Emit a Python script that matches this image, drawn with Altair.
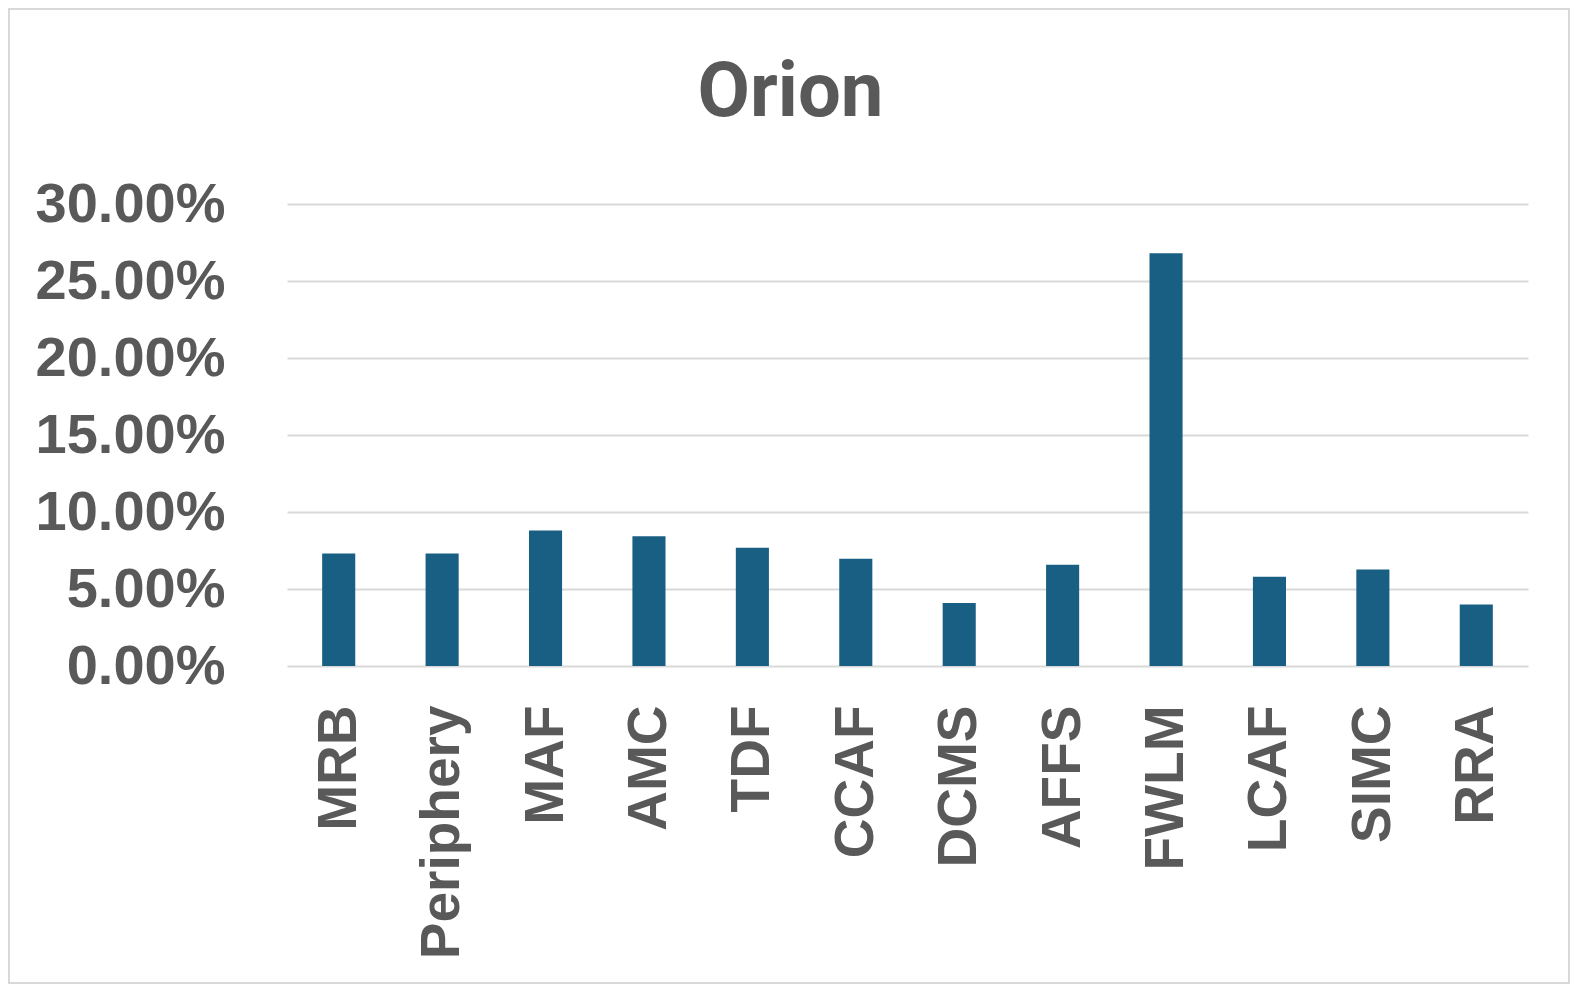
import altair as alt
import pandas as pd

categories = ["MRB", "Periphery", "MAF", "AMC", "TDF", "CCAF", "DCMS", "AFFS", "FWLM", "LCAF", "SIMC", "RRA"]
values = [0.0730, 0.0730, 0.0880, 0.0843, 0.0768, 0.0696, 0.0409, 0.0657, 0.2680, 0.0580, 0.0627, 0.0400]
y_ticks = [0.0, 0.05, 0.10, 0.15, 0.20, 0.25, 0.30]

df = pd.DataFrame({"category": categories, "value": values})

W, H = 1241, 462
PL, PT, PR, PB = 279, 196, 42, 318
TEXT = "#595959"
GRID = "#D9D9D9"

bars = alt.Chart(df).mark_bar(color="#185F83").encode(
    x=alt.X(
        "category:N",
        sort=categories,
        title=None,
        scale=alt.Scale(paddingInner=0.68, paddingOuter=0.34),
        axis=alt.Axis(
            labelAngle=-90,
            labelAlign="right",
            labelBaseline="middle",
            labelFont="Liberation Sans",
            labelFontWeight="bold",
            labelFontSize=55,
            labelColor=TEXT,
            labelPadding=39,
            labelLimit=1000,
            labelOverlap=False,
            ticks=False,
            tickSize=0,
            domain=False,
            grid=False,
        ),
    ),
    y=alt.Y(
        "value:Q",
        title=None,
        scale=alt.Scale(domain=[0, 0.30], nice=False),
        axis=alt.Axis(
            values=y_ticks,
            format=".2%",
            labelFont="Liberation Sans",
            labelFontWeight="bold",
            labelFontSize=56,
            labelColor=TEXT,
            labelPadding=62,
            labelLimit=1000,
            labelOverlap=False,
            ticks=False,
            tickSize=0,
            domain=False,
            grid=True,
            gridColor=GRID,
            gridWidth=2,
        ),
    ),
)

frame = alt.Chart(alt.Data(values=[{}])).mark_rect(
    fill="transparent", stroke=GRID, strokeWidth=2
).encode(
    x=alt.value(-PL + 1),
    x2=alt.value(W + PR - 1),
    y=alt.value(-PT + 1),
    y2=alt.value(H + PB - 1),
)

chart = alt.layer(frame, bars).properties(
    width=W,
    height=H,
    background="white",
    padding={"left": PL, "top": PT, "right": PR, "bottom": PB},
    autosize=alt.AutoSizeParams(type="none"),
    title=alt.TitleParams(
        "Orion",
        font="Roboto",
        fontSize=76,
        fontWeight="bold",
        color=TEXT,
        anchor="middle",
        baseline="alphabetic",
        offset=0,
        dx=-117,
        dy=184,
    ),
).configure_view(strokeWidth=0)

chart.save("out.html", embed_options={"renderer": "svg", "actions": False})
